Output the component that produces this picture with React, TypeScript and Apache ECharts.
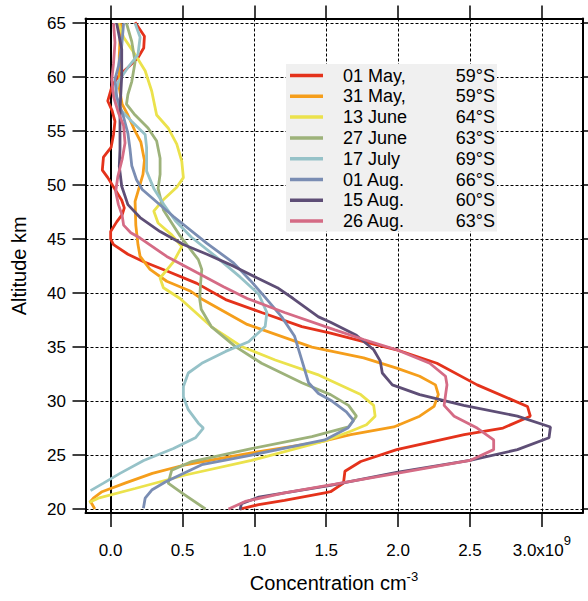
import React, { useEffect, useRef } from 'react';
import * as echarts from 'echarts';

const FONT = '"Liberation Sans", Arial, Helvetica, sans-serif';

// Legend labels
const NAMES = ['01 May,', '31 May,', '13 June', '27 June', '17 July', '01 Aug.', '15 Aug.', '26 Aug.'];
const LATS = ['59°S', '59°S', '64°S', '63°S', '69°S', '66°S', '60°S', '63°S'];
const COLORS = ['#e4321b', '#f59e1b', '#ebe24c', '#9db27a', '#96c2c8', '#7a8db3', '#5e4e76', '#d56b85'];

// Axis ticks (concentration in units of 1e9 cm^-3, altitude in km)
const X_TICKS = [0, 0.5, 1, 1.5, 2, 2.5, 3];
const Y_TICKS = [20, 25, 30, 35, 40, 45, 50, 55, 60, 65];
const X_MIN = -0.175;
const X_MAX = 3.283;
const Y_MIN = 19.63;
const Y_MAX = 65.44;

// Profiles: [concentration (1e9 cm^-3), altitude (km)]
const MAY01 = [[0.17,65.1],[0.235,63.8],[0.23,62.7],[0.19,61.8],[0.12,60.9],[0.054,60.1],[0.01,59.2],[-0.02,57.8],[0.01,56.9],[0.03,55.9],[0.02,54.7],[0.003,53.5],[-0.05,52.6],[-0.058,51.4],[-0.02,50.7],[0.077,48.6],[0.095,47.9],[0.081,47.3],[0.042,46.6],[0.0,45.7],[0.0,45.0],[0.02,44.5],[0.12,43.6],[0.23,42.9],[0.40,42.0],[0.60,40.9],[0.80,39.4],[1.05,38.2],[1.33,36.9],[1.53,36.3],[1.76,35.5],[1.99,34.75],[2.27,33.5],[2.55,31.5],[2.90,29.5],[2.92,28.6],[2.73,27.5],[2.46,26.9],[1.99,25.5],[1.74,24.4],[1.63,23.5],[1.62,22.4],[1.53,21.6],[1.49,21.5],[1.21,20.8],[1.03,20.4],[0.90,20.0]];
const MAY31 = [[0.07,65],[0.06,62],[0.06,59],[0.08,57.5],[0.12,56.5],[0.17,55],[0.21,54],[0.235,52.3],[0.225,51],[0.19,49.4],[0.17,48.5],[0.175,46.3],[0.19,44.5],[0.205,43.4],[0.274,42.2],[0.39,41.1],[0.553,40.2],[0.64,39.4],[0.95,37.1],[1.40,35.0],[1.76,34.0],[1.99,33.05],[2.15,32.3],[2.26,31.5],[2.28,30.6],[2.25,29.5],[2.15,28.6],[1.97,27.6],[1.67,26.9],[1.45,26.2],[0.98,25.2],[0.52,24.1],[0.29,23.3],[0.10,22.4],[-0.06,21.6],[-0.12,21.0],[-0.14,20.7],[-0.11,20.0]];
const JUN13 = [[0.054,65],[0.09,63.7],[0.17,62.1],[0.24,60.6],[0.286,58.7],[0.32,56.5],[0.40,55.3],[0.46,53.8],[0.495,52.2],[0.506,50.7],[0.46,49.8],[0.37,48.7],[0.30,47.6],[0.33,46.5],[0.425,45.4],[0.495,44.3],[0.437,42.9],[0.344,41.4],[0.367,40.5],[0.483,39.5],[0.70,36.9],[0.91,35.06],[1.145,33.8],[1.45,32.4],[1.74,30.6],[1.83,29.6],[1.84,28.6],[1.78,27.8],[1.67,27.2],[1.49,26.3],[0.98,24.5],[0.52,23.15],[0.17,21.9],[-0.086,21.0],[-0.15,20.6]];
const JUN27 = [[0.11,65],[0.147,63.3],[0.17,61.4],[0.147,59.6],[0.12,58.4],[0.11,57.5],[0.17,56.5],[0.26,55.3],[0.32,54.1],[0.344,52.5],[0.344,51.0],[0.33,49.7],[0.367,47.7],[0.483,45.3],[0.61,43.1],[0.634,42.2],[0.625,40.8],[0.62,39.4],[0.63,38.5],[0.70,36.9],[0.866,35.06],[1.05,33.5],[1.33,31.7],[1.53,30.6],[1.655,29.6],[1.71,28.6],[1.655,27.6],[1.40,26.7],[0.98,25.6],[0.565,24.4],[0.425,23.6],[0.40,22.4],[0.495,21.5],[0.66,20.0]];
const JUL17 = [[0.17,65],[0.205,63.7],[0.19,62.1],[0.12,60.9],[0.054,59.6],[0.03,58.4],[0.054,57.2],[0.147,55.9],[0.24,54.7],[0.25,53.5],[0.25,52.5],[0.25,51.3],[0.30,49.7],[0.37,48.2],[0.45,46.7],[0.56,45.2],[0.73,43.4],[0.90,41.5],[1.03,39.9],[1.087,38.2],[1.075,36.9],[0.96,35.5],[0.80,34.6],[0.634,33.5],[0.54,32.6],[0.506,31.35],[0.506,30.4],[0.54,29.2],[0.61,27.95],[0.645,27.5],[0.59,26.6],[0.437,25.6],[0.23,24.5],[0.065,23.3],[-0.05,22.4],[-0.14,21.7]];
const AUG01 = [[0.09,65],[0.077,62.9],[0.054,61.0],[0.03,59.8],[0.042,58.2],[0.088,56.4],[0.12,54.8],[0.135,53.3],[0.147,51.8],[0.18,50.5],[0.22,49.6],[0.437,47.1],[0.67,44.6],[0.855,42.8],[0.97,41.2],[1.075,39.6],[1.19,37.8],[1.28,36.0],[1.33,33.8],[1.377,31.7],[1.446,30.7],[1.54,30.0],[1.64,29.0],[1.69,28.2],[1.65,27.5],[1.49,26.4],[0.98,25.0],[0.634,24.1],[0.38,22.5],[0.286,21.76],[0.24,21.0],[0.228,20.07]];
const AUG15 = [[0.042,65],[0.077,62.6],[0.077,60.1],[0.065,57.0],[0.065,53.3],[0.06,51.75],[0.077,49.9],[0.12,48.2],[0.205,47.0],[0.344,45.7],[0.506,44.5],[0.67,43.6],[0.855,42.5],[1.02,41.4],[1.16,40.5],[1.27,39.5],[1.446,37.8],[1.53,37.3],[1.71,36.1],[1.83,34.75],[1.876,33.7],[1.89,32.6],[1.96,31.5],[2.15,30.6],[2.456,29.6],[2.83,28.6],[3.06,27.6],[3.05,26.6],[2.83,25.5],[2.50,24.5],[1.99,23.4],[1.53,22.2],[1.03,21.1],[0.91,20.5],[0.90,19.9]];
const AUG26 = [[0.02,65],[0.03,63.2],[0.02,61.3],[0.008,59.8],[0.02,58.2],[0.054,56.7],[0.09,55.5],[0.1,53.9],[0.08,52.4],[0.05,50.8],[0.035,49.4],[0.054,48.2],[0.08,47.2],[0.09,46.3],[0.14,45.6],[0.205,45.1],[0.39,43.4],[0.60,41.9],[0.785,40.6],[0.95,39.5],[1.21,38.2],[1.56,36.6],[1.76,35.7],[1.99,34.75],[2.22,33.5],[2.33,32.3],[2.34,31.5],[2.32,29.6],[2.39,28.6],[2.55,27.5],[2.665,26.4],[2.665,25.5],[2.50,24.5],[1.99,23.3],[1.56,22.3],[1.21,21.5],[0.936,20.7],[0.82,20.0]];

const PROFILES = [MAY01, MAY31, JUN13, JUN27, JUL17, AUG01, AUG15, AUG26];

function buildOption() {
  const black = '#000';
  const series: any[] = PROFILES.map((d, i) => ({
    name: NAMES[i],
    type: 'line',
    data: d,
    showSymbol: false,
    symbol: 'none',
    color: COLORS[i],
    lineStyle: { color: COLORS[i], width: 2.8 },
    xAxisIndex: 0,
    yAxisIndex: 0,
    z: 3 + i * 0.01,
  }));
  series[0].markLine = {
    silent: true,
    symbol: 'none',
    label: { show: false },
    lineStyle: { color: black, width: 2, type: 'solid' },
    data: [{ xAxis: 0 }],
    z: 2,
  };

  const frameLine = { show: true, onZero: false, lineStyle: { color: black, width: 2 } };
  const gridLine = { show: true, lineStyle: { color: black, width: 1, type: [3, 2] } };

  return {
    animation: false,
    backgroundColor: '#fff',
    grid: { left: 85.5, right: 5.5, top: 18.5, bottom: 88, containLabel: false },
    legend: {
      show: true,
      orient: 'vertical',
      left: 286,
      top: 64,
      itemWidth: 33,
      itemHeight: 3.5,
      itemGap: 2.8,
      icon: 'rect',
      selectedMode: false,
      backgroundColor: '#f0f0f0',
      padding: [2.5, 2, 1.5, 4],
      data: NAMES,
      formatter: (name: string) => `{a|${name}}{b|${LATS[NAMES.indexOf(name)]}}`,
      textStyle: {
        color: black,
        fontFamily: FONT,
        fontSize: 18,
        rich: {
          a: { fontSize: 18, fontFamily: FONT, color: black, width: 112, padding: [0, 0, 0, 15], lineHeight: 18 },
          b: { fontSize: 18, fontFamily: FONT, color: black, width: 40, align: 'right', lineHeight: 18 },
        },
      },
    },
    xAxis: [
      {
        type: 'value',
        position: 'bottom',
        min: X_MIN,
        max: X_MAX,
        splitNumber: 7,
        minInterval: 0.5,
        maxInterval: 0.5,
        axisLine: frameLine,
        axisTick: { show: true, inside: false, length: 14, customValues: X_TICKS, lineStyle: { color: black, width: 1.5 } },
        axisLabel: {
          show: true,
          customValues: X_TICKS,
          margin: 37.5,
          verticalAlign: 'middle',
          color: black,
          fontSize: 17,
          fontFamily: FONT,
          formatter: (v: number) => (Math.abs(v - 3) < 1e-6 ? '3.0x10{s|9}' : v.toFixed(1)),
          rich: { s: { fontSize: 13, fontFamily: FONT, color: black, padding: [0, 0, 20, 0] } },
        },
        splitLine: gridLine,
        name: 'Concentration cm{s|-3}',
        nameLocation: 'middle',
        nameGap: 70,
        nameTextStyle: {
          fontSize: 20,
          color: black,
          fontFamily: FONT,
          verticalAlign: 'middle',
          rich: { s: { fontSize: 13, fontFamily: FONT, color: black, padding: [0, 0, 14, 0] } },
        },
      },
      {
        type: 'value',
        position: 'top',
        min: X_MIN,
        max: X_MAX,
        splitNumber: 7,
        minInterval: 0.5,
        maxInterval: 0.5,
        axisLine: frameLine,
        axisTick: { show: true, inside: false, length: 13, customValues: X_TICKS, lineStyle: { color: black, width: 1.5 } },
        axisLabel: { show: false },
        splitLine: { show: false },
      },
    ],
    yAxis: [
      {
        type: 'value',
        position: 'left',
        min: Y_MIN,
        max: Y_MAX,
        splitNumber: 9,
        minInterval: 5,
        maxInterval: 5,
        axisLine: frameLine,
        axisTick: { show: true, inside: false, length: 13, customValues: Y_TICKS, lineStyle: { color: black, width: 1.5 } },
        axisLabel: {
          show: true,
          customValues: Y_TICKS,
          margin: 19.5,
          color: black,
          fontSize: 17,
          fontFamily: FONT,
          formatter: (v: number) => String(Math.round(v)),
        },
        splitLine: gridLine,
        name: 'Altitude km',
        nameLocation: 'middle',
        nameGap: 67,
        nameRotate: 90,
        nameTextStyle: { fontSize: 20, color: black, fontFamily: FONT, verticalAlign: 'middle' },
      },
      {
        type: 'value',
        position: 'right',
        min: Y_MIN,
        max: Y_MAX,
        splitNumber: 9,
        minInterval: 5,
        maxInterval: 5,
        axisLine: frameLine,
        axisTick: { show: true, inside: false, length: 13, customValues: Y_TICKS, lineStyle: { color: black, width: 1.5 } },
        axisLabel: { show: false },
        splitLine: { show: false },
      },
    ],
    series,
  };
}

export default function App() {
  const ref = useRef<HTMLDivElement>(null);
  useEffect(() => {
    if (!ref.current) return;
    const chart = echarts.init(ref.current, null, { renderer: 'svg' });
    chart.setOption(buildOption() as any);
    return () => chart.dispose();
  }, []);
  return (
    <div
      ref={ref}
      style={{ position: 'absolute', left: 0, top: 0, width: 588, height: 601, background: '#fff' }}
    />
  );
}
